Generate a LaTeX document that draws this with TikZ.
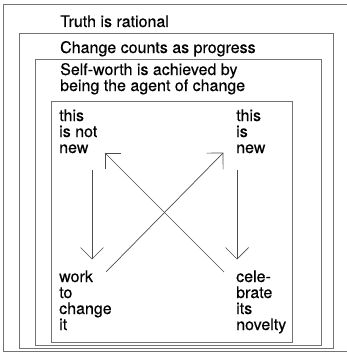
\documentclass[tikz,border=0pt]{standalone}
\usepackage{fontspec}
\setmainfont{TeX Gyre Heros}
\newfontfamily\medfont[FakeBold=0.35]{TeX Gyre Heros}
\usetikzlibrary{arrows.meta}
\pgfdeclarearrow{
  name = OpenVee,
  parameters = {\the\pgfarrowlength},
  setup code = {
    \pgfarrowssettipend{0pt}
    \pgfarrowssetlineend{0pt}
    \pgfarrowssetbackend{-\pgfarrowlength}
    \pgfarrowsupperhullpoint{-\pgfarrowlength}{\pgfarrowlength}
    \pgfarrowssavethe\pgfarrowlength
  },
  drawing code = {
    \pgfsetroundjoin
    \pgfpathmoveto{\pgfpoint{-\pgfarrowlength}{\pgfarrowlength}}
    \pgfpathlineto{\pgfpointorigin}
    \pgfpathlineto{\pgfpoint{-\pgfarrowlength}{-\pgfarrowlength}}
    \pgfusepathqstroke
  },
  defaults = {length = 11.5pt}
}
\tikzset{
  frame/.style={draw=black!55, line width=0.7pt},
  label/.style={anchor=base west, inner sep=0pt, align=left,
    font=\medfont\fontsize{16}{16}\selectfont, text=black,
    execute at begin node={\baselineskip=16pt}},
  conn/.style={draw=black!70, line width=0.7pt, -{OpenVee}}
}
\begin{document}
\begin{tikzpicture}[x=1pt,y=-1pt]
\useasboundingbox (0,0) rectangle (346,353);
\draw[frame] (3,4) rectangle (347,351);
\draw[frame] (19,33) rectangle (333,348);
\draw[frame] (35,59) rectangle (321,345);
\draw[frame] (51,101) rectangle (292,342);
\node[label] (t1) at (60,27) {Truth is rational};
\node[label] (t2) at (60,53) {Change counts as progress};
\node[label] (t3) at (60,91) {Self-worth is achieved by\\being the agent of change};
\node[label] (nn) at (59,153) {this\\is not\\new};
\node[label] (n) at (236,153) {this\\is\\new};
\node[label] (w) at (59,330) {work\\to\\change\\it};
\node[label] (c) at (236,330) {cele-\\brate\\its\\novelty};
\coordinate (a1s) at (92,170); \coordinate (a1e) at (92,259);
\coordinate (a2s) at (237,170); \coordinate (a2e) at (237,259);
\coordinate (d1s) at (106,272); \coordinate (d1e) at (223,153);
\coordinate (d2s) at (224,272); \coordinate (d2e) at (105,153);
\draw[conn] (a1s) -- (a1e);
\draw[conn] (a2s) -- (a2e);
\draw[conn] (d1s) -- (d1e);
\draw[conn] (d2s) -- (d2e);
\end{tikzpicture}
\end{document}
